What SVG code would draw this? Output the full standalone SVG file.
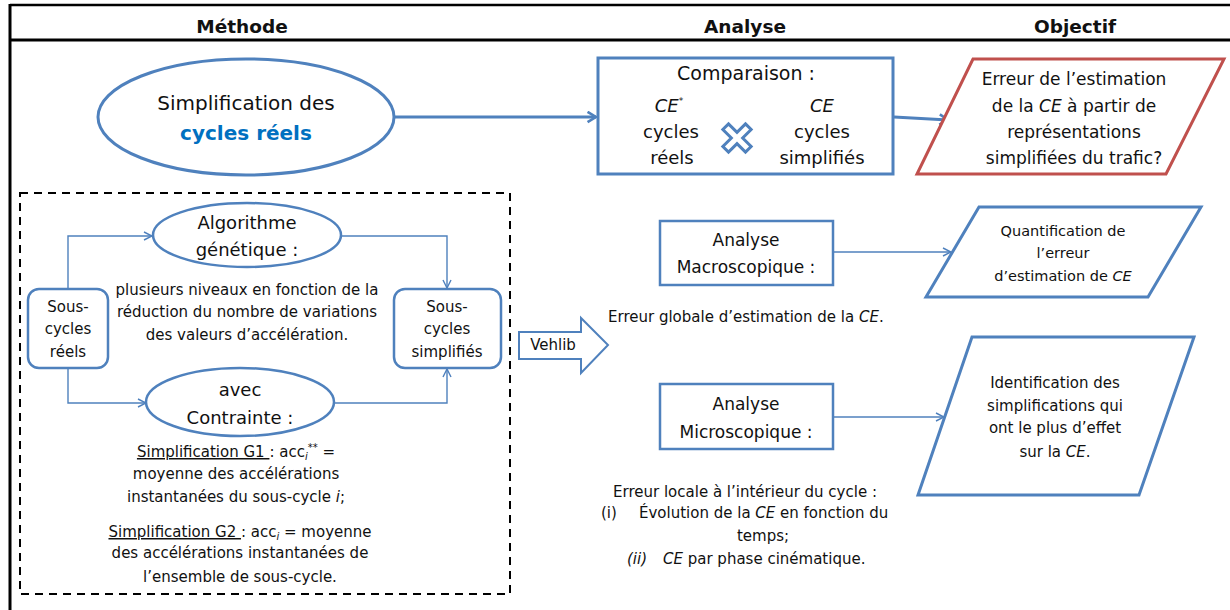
<svg xmlns="http://www.w3.org/2000/svg" width="1230" height="610" viewBox="0 0 1230 610">
<defs>
<marker id="arr" viewBox="0 0 10 10" refX="9" refY="5" markerWidth="10" markerHeight="10" markerUnits="userSpaceOnUse" orient="auto">
<path d="M1,1 L9,5 L1,9" fill="none" stroke="#4F81BD" stroke-width="1.4"/>
</marker>
<marker id="arrB" viewBox="0 0 10 10" refX="8.5" refY="5" markerWidth="13" markerHeight="13" markerUnits="userSpaceOnUse" orient="auto">
<path d="M2,1 L8.5,5 L2,9" fill="none" stroke="#4F81BD" stroke-width="2"/>
</marker>
</defs>
<style>
text{font-family:"DejaVu Sans","Liberation Sans",sans-serif;fill:#111;text-anchor:middle}
.h{font-weight:bold;font-size:18.5px}
.b{fill:#fff;stroke:#4F81BD;stroke-width:3}
.bt{fill:#fff;stroke:#4F81BD;stroke-width:2.5}
.c{fill:none;stroke:#4F81BD;stroke-width:1.4}
.it{font-style:italic}
.s15{font-size:15px}
.s14{font-size:14.5px}
.s17{font-size:17px}
.s18{font-size:18px}
.s19{font-size:19px}
.s20{font-size:20px}
.l{text-anchor:start}
</style>
<rect width="1230" height="610" fill="#fff"/>
<g id="frame">
<line x1="10" y1="5" x2="1230" y2="5" stroke="#000" stroke-width="2.5"/>
<line x1="10" y1="40" x2="1230" y2="40" stroke="#000" stroke-width="3"/>
<line x1="10" y1="4" x2="10" y2="610" stroke="#000" stroke-width="3"/>
<text class="h" x="242" y="33">Méthode</text>
<text class="h" x="745" y="33">Analyse</text>
<text class="h" x="1075" y="33">Objectif</text>
</g>
<g id="connectors">
<line x1="394" y1="117" x2="596" y2="117" stroke="#4F81BD" stroke-width="3" marker-end="url(#arrB)"/>
<line x1="894" y1="117" x2="948" y2="120" stroke="#4F81BD" stroke-width="3" marker-end="url(#arrB)"/>
<polyline class="c" points="68,289 68,236 152,236" marker-end="url(#arr)"/>
<polyline class="c" points="341,236 447,236 447,288" marker-end="url(#arr)"/>
<polyline class="c" points="68,368 68,403 146,403" marker-end="url(#arr)"/>
<polyline class="c" points="334,403 447,403 447,369" marker-end="url(#arr)"/>
<line class="c" x1="833" y1="252" x2="951" y2="252" marker-end="url(#arr)"/>
<line class="c" x1="833" y1="417" x2="944" y2="417" marker-end="url(#arr)"/>
</g>
<g id="simplification">
<ellipse class="b" cx="246" cy="117" rx="148" ry="58"/>
<text class="s20" x="246" y="110">Simplification des</text>
<text class="s20" x="246" y="140" style="fill:#0070C0;font-weight:bold">cycles réels</text>
</g>
<g id="comparaison">
<rect class="b" x="598" y="58" width="295" height="116"/>
<text class="s19" x="746" y="80">Comparaison :</text>
<text class="s18" x="669" y="112"><tspan class="it">CE</tspan><tspan font-size="9" dy="-8">*</tspan></text>
<text class="s18" x="671" y="138">cycles</text>
<text class="s18" x="672" y="164">réels</text>
<text class="s18 it" x="822" y="112">CE</text>
<text class="s18" x="822" y="138">cycles</text>
<text class="s18" x="822" y="164">simplifiés</text>
<polygon transform="translate(737,138) rotate(45)" points="-4,-16 4,-16 4,-4 16,-4 16,4 4,4 4,16 -4,16 -4,4 -16,4 -16,-4 -4,-4" fill="#fff" stroke="#4F81BD" stroke-width="3" stroke-linejoin="miter"/>
</g>
<g id="objectif-erreur">
<polygon points="973,59 1224,59 1166,174 917,174" fill="#fff" stroke="#C0504D" stroke-width="3"/>
<text class="s17" x="1074" y="85">Erreur de l’estimation</text>
<text class="s17" x="1074" y="112">de la <tspan class="it">CE</tspan> à partir de</text>
<text class="s17" x="1074" y="138">représentations</text>
<text class="s17" x="1074" y="164">simplifiées du trafic?</text>
</g>
<g id="methode-box">
<rect x="20" y="193" width="490" height="401" fill="none" stroke="#000" stroke-width="2" stroke-dasharray="8,6"/>
</g>
<g id="sous-cycles-reels">
<rect class="bt" x="28" y="289" width="80" height="79" rx="11"/>
<text class="s15" x="68" y="312">Sous-</text>
<text class="s15" x="68" y="334">cycles</text>
<text class="s15" x="68" y="357">réels</text>
</g>
<g id="sous-cycles-simplifies">
<rect class="bt" x="394" y="289" width="107" height="79" rx="11"/>
<text class="s15" x="447" y="312">Sous-</text>
<text class="s15" x="447" y="334">cycles</text>
<text class="s15" x="447" y="357">simplifiés</text>
</g>
<g id="algorithme">
<ellipse class="bt" cx="247" cy="235" rx="94" ry="32"/>
<text class="s18" x="247" y="229">Algorithme</text>
<text class="s18" x="247" y="256">génétique :</text>
<text class="s15" x="247" y="295">plusieurs niveaux en fonction de la</text>
<text class="s15" x="247" y="317">réduction du nombre de variations</text>
<text class="s15" x="247" y="340">des valeurs d’accélération.</text>
</g>
<g id="contrainte">
<ellipse class="bt" cx="240" cy="402" rx="94" ry="34"/>
<text class="s18" x="240" y="396">avec</text>
<text class="s18" x="240" y="424">Contrainte :</text>
<text class="s15" x="236" y="457"><tspan text-decoration="underline">Simplification G1 </tspan>: acc<tspan class="it" font-size="10" dy="3">i</tspan><tspan font-size="10" dy="-9">**</tspan><tspan dy="6"> =</tspan></text>
<text class="s15" x="236" y="479">moyenne des accélérations</text>
<text class="s15" x="236" y="502">instantanées du sous-cycle <tspan class="it">i</tspan>;</text>
<text class="s15" x="240" y="537"><tspan text-decoration="underline">Simplification G2 </tspan>: acc<tspan class="it" font-size="10" dy="3">i</tspan><tspan dy="-3">  = moyenne</tspan></text>
<text class="s15" x="240" y="558">des accélérations instantanées de</text>
<text class="s15" x="240" y="582">l’ensemble de sous-cycle.</text>
</g>
<g id="vehlib">
<polygon points="519,332 581,332 581,318 608,345 581,373 581,359 519,359" fill="#fff" stroke="#4F81BD" stroke-width="2"/>
<text x="553" y="350" style="font-size:15px">Vehlib</text>
</g>
<g id="macro">
<rect class="bt" x="660" y="221" width="173" height="64"/>
<text class="s17" x="746" y="246">Analyse</text>
<text class="s17" x="746" y="273">Macroscopique :</text>
<text class="s15 l" x="608" y="322">Erreur globale d’estimation de la <tspan class="it">CE</tspan>.</text>
</g>
<g id="quantification">
<polygon class="b" points="979,207 1201,207 1148,297 926,297"/>
<text class="s14" x="1063" y="236">Quantification de</text>
<text class="s14" x="1063" y="258">l’erreur</text>
<text class="s14" x="1063" y="281">d’estimation de <tspan class="it">CE</tspan></text>
</g>
<g id="micro">
<rect class="bt" x="660" y="384" width="173" height="65"/>
<text class="s17" x="746" y="410">Analyse</text>
<text class="s17" x="746" y="438">Microscopique :</text>
<text class="s15" x="745" y="497">Erreur locale à l’intérieur du cycle :</text>
<text class="s15 l" x="601" y="518">(i)</text>
<text class="s15 l" x="639" y="518">Évolution de la <tspan class="it">CE</tspan> en fonction du</text>
<text class="s15" x="763" y="541">temps;</text>
<text class="s15 l it" x="627" y="564">(ii)</text>
<text class="s15 l" x="663" y="564"><tspan class="it">CE</tspan> par phase cinématique.</text>
</g>
<g id="identification">
<polygon class="b" points="972,337 1194,337 1139,495 918,495"/>
<text class="s15" x="1055" y="388">Identification des</text>
<text class="s15" x="1055" y="411">simplifications qui</text>
<text class="s15" x="1055" y="433">ont le plus d’effet</text>
<text class="s15" x="1055" y="457">sur la <tspan class="it">CE</tspan>.</text>
</g>
</svg>
